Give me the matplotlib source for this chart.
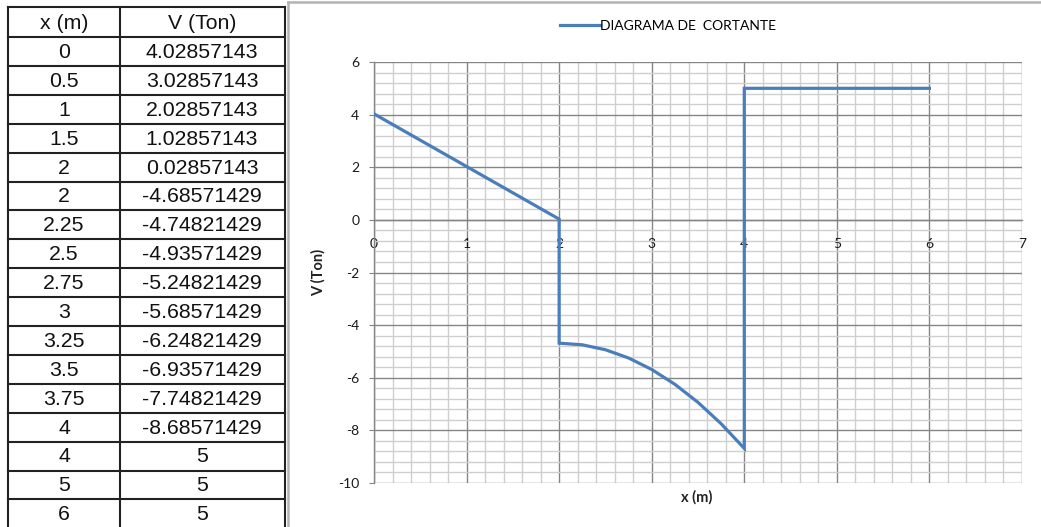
import matplotlib
matplotlib.use("Agg")
import matplotlib.pyplot as plt
from matplotlib.lines import Line2D
from matplotlib.ticker import MultipleLocator

plt.rcParams["axes.unicode_minus"] = False

# ---- data ----
x_m = [0, 0.5, 1, 1.5, 2, 2, 2.25, 2.5, 2.75, 3, 3.25, 3.5, 3.75, 4, 4, 5, 6]
v_ton = [4.02857143, 3.02857143, 2.02857143, 1.02857143, 0.02857143,
         -4.68571429, -4.74821429, -4.93571429, -5.24821429, -5.68571429,
         -6.24821429, -6.93571429, -7.74821429, -8.68571429, 5, 5, 5]
x_labels = ["0", "0.5", "1", "1.5", "2", "2", "2.25", "2.5", "2.75", "3",
            "3.25", "3.5", "3.75", "4", "4", "5", "6"]
v_labels = ["4.02857143", "3.02857143", "2.02857143", "1.02857143", "0.02857143",
            "-4.68571429", "-4.74821429", "-4.93571429", "-5.24821429", "-5.68571429",
            "-6.24821429", "-6.93571429", "-7.74821429", "-8.68571429", "5", "5", "5"]
headers = ["x (m)", "V (Ton)"]
series_name = "DIAGRAMA DE  CORTANTE"
x_ticks = [0, 1, 2, 3, 4, 5, 6, 7]
y_ticks = [-10, -8, -6, -4, -2, 0, 2, 4, 6]

W, H = 1041, 527
fig = plt.figure(figsize=(W / 100, H / 100), dpi=100)
fig.patch.set_facecolor("white")


def fx(x):
    return x / W


def fy(y):
    return 1 - y / H


# ---- table ----
tcol = "#222222"
tl, tm, tr = 8, 120, 285
ttop, thead = 7, 37
rh = 28.9
nrows = len(x_labels)
bottom = thead + rh * nrows
for xv in (tl, tm, tr):
    fig.add_artist(Line2D([fx(xv), fx(xv)], [fy(ttop), fy(bottom)],
                          color=tcol, lw=1.5, transform=fig.transFigure))
ys = [ttop, thead] + [thead + rh * k for k in range(1, nrows)]
for yv in ys:
    fig.add_artist(Line2D([fx(tl), fx(tr)], [fy(yv), fy(yv)],
                          color=tcol, lw=1.5, transform=fig.transFigure))

tfont = dict(family="Liberation Sans", fontsize=15.3, color="#111111")
cx1, cx2 = (tl + tm) / 2, 202
fig.text(fx(cx1), fy(thead - 8), headers[0], ha="center", va="baseline", **tfont)
fig.text(fx(cx2), fy(thead - 8), headers[1], ha="center", va="baseline", **tfont)
for i, (a, b) in enumerate(zip(x_labels, v_labels)):
    yb = thead + rh * (i + 1) - 8
    fig.text(fx(cx1), fy(yb), a, ha="center", va="baseline", **tfont)
    fig.text(fx(cx2), fy(yb), b, ha="center", va="baseline", **tfont)

# ---- chart panel border ----
pcol = "#b3b3b3"
fig.add_artist(Line2D([fx(288), fx(288)], [fy(2), fy(527)], color=pcol, lw=1.8,
                      transform=fig.transFigure))
fig.add_artist(Line2D([fx(288), fx(1041)], [fy(2), fy(2)], color=pcol, lw=1.8,
                      transform=fig.transFigure))

# ---- chart ----
al, ar, at, ab = 374, 1022, 62, 483
ax = fig.add_axes([fx(al), fy(ab), (ar - al) / W, (ab - at) / H])
ax.set_facecolor("white")
line_col = "#4a7ebb"
ax.plot(x_m, v_ton, color=line_col, lw=2.3, label=series_name, zorder=5,
        solid_joinstyle="miter")
ax.set_xlim(0, 7)
ax.set_ylim(-10, 6)
ax.set_xticks(x_ticks)
ax.set_yticks(y_ticks)
ax.xaxis.set_minor_locator(MultipleLocator(0.2))
ax.yaxis.set_minor_locator(MultipleLocator(0.4))
ax.grid(which="major", color="#858585", lw=1.0)
ax.grid(which="minor", color="#cfcfcf", lw=1.0)
ax.set_axisbelow(True)
for s in ("top", "right"):
    ax.spines[s].set_visible(False)
ax.spines["bottom"].set_position(("data", 0))
ax.spines["bottom"].set_color("#858585")
ax.spines["left"].set_color("#858585")
ax.spines["bottom"].set_linewidth(1.0)
ax.spines["left"].set_linewidth(1.0)
ax.tick_params(axis="x", which="major", length=0, pad=13, labelsize=10,
               labelcolor="#1a1a1a")
ax.tick_params(axis="y", which="major", length=3.6, pad=7, labelsize=10,
               labelcolor="#1a1a1a", color="#858585")
ax.tick_params(which="minor", length=0)
for lab in ax.get_xticklabels() + ax.get_yticklabels():
    lab.set_family("Lato")

ax.set_xlabel("x (m)", fontsize=10.5, fontweight="bold", family="Lato", color="#222222")
ax.xaxis.set_label_coords((697 - al) / (ar - al), (ab - 497) / (ab - at))
ax.xaxis.label.set_va("center")
ax.set_ylabel("V (Ton)", fontsize=10.5, fontweight="bold", family="Lato", color="#222222")
ax.yaxis.set_label_coords((318 - al) / (ar - al), (ab - 272) / (ab - at))
ax.yaxis.label.set_va("center")

ax.legend(loc="center", bbox_to_anchor=(fx(668), fy(26)), bbox_transform=fig.transFigure,
          frameon=False, handlelength=2.9, handletextpad=0.05,
          prop=dict(family="Lato", size=10))

fig.savefig("out.png", dpi=100, facecolor="white")
